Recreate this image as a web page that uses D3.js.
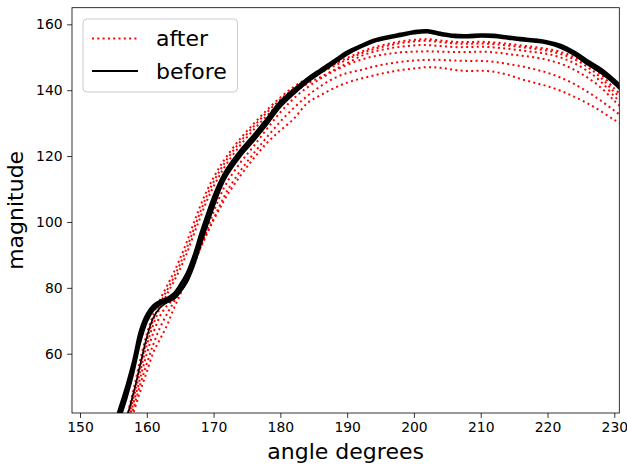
<!DOCTYPE html>
<html>
<head>
<meta charset="utf-8">
<script src="https://cdn.jsdelivr.net/npm/d3@7"></script>
<style>
  body { margin: 0; background: #fff; }
  svg { display: block; font-family: "DejaVu Sans", sans-serif; }
</style>
</head>
<body>
<div id="chart"></div>
<script>
var w = 627, h = 465;

// angle grid shared by every series
var angles = [155,156,157,158,159,160,161,162,163,164,165,166,167,168,169,170,171,172,
  174,176,178,180,182,184,186,188,190,192,194,196,198,200,202,204,206,208,210,212,214,
  216,218,220,222,224,226,228,230,231.5];

// "before" curves (black)
var before1 = [36,42,48.5,56,65.5,71,74,75.5,76.2,77.3,79.8,83,88,94.5,100.5,106.2,111.3,115.2,
  120.8,125.5,130.5,135.8,139.6,143,145.8,148.5,151.3,153.3,155,156,156.8,157.6,157.9,157.1,156.5,156.4,156.6,156.5,156.0,
  155.5,155.1,154.5,153.3,151.2,148.4,145.9,142.6,139.6];
var before2 = [37.5,44,50.5,58,67,72,74.7,76,76.8,78.2,81,84.5,89.7,96.2,102.2,107.8,112.5,116.2,
  121.7,126.4,131.4,136.6,140.2,143.5,146.3,149,151.7,153.6,155.3,156.3,157.1,157.9,158.2,157.4,156.8,156.7,156.9,156.8,156.3,
  155.8,155.4,154.8,153.7,151.7,149,146.5,143.2,140.3];
var before3 = [34,40.5,47,54.5,63.5,69.8,73.3,75,75.7,76.6,78.8,81.8,86.6,92.9,98.9,104.7,110.1,114.2,
  120,124.7,129.7,135,138.9,142.4,145.3,148.1,150.9,153,154.7,155.7,156.5,157.3,157.6,156.8,156.2,156.1,156.3,156.2,155.7,
  155.2,154.8,154.2,152.9,150.8,147.9,145.3,142,139];
var before4 = [28,33,40.5,48,56.5,65,71,74,75.5,76.8,79,82.2,87,93.5,99.5,105.3,110.5,114.5,
  120.2,125,130,135.2,139.1,142.6,145.4,148.1,151,153,154.8,155.8,156.6,157.4,157.7,156.9,156.3,156.2,156.4,156.3,155.8,
  155.3,154.9,154.3,153.1,150.9,148.1,145.5,142.2,139.1];

// "after" curves (red dotted)
var after1 = [30,35,41,49,58,66,72,76.5,80.5,84.5,89,94,99.5,104.8,109.5,113.5,117,120,
  125.3,129.8,134,137.8,141,143.6,145.8,147.8,149.8,151.6,153,154,154.8,155.3,155.5,155.1,154.7,154.6,154.7,154.5,154.1,
  153.6,153.1,152.5,151.6,150.1,147.8,144.8,140.5,137.8];
var after2 = [29,34,40,47.5,56,64,70.5,75.3,79.2,83,87.3,92.2,97.6,103,108,112.2,115.8,119,
  124.4,129,133.3,137.2,140.4,143,145.2,147.3,149.3,151.1,152.5,153.5,154.3,154.8,155,154.6,154.2,154.1,154.2,154,153.6,
  153.1,152.6,152,151,149.4,147,143.8,139.5,137];
var after3 = [28,33,39,46.5,54.5,62.5,69,74,78,81.7,85.8,90.5,96,101.3,106.5,110.8,114.5,117.8,
  123.3,128,132.3,136.2,139.3,141.9,144,146.1,148.2,150.3,151.7,152.6,153.2,153.6,153.7,153.4,153.1,153.1,153.2,153,152.6,
  152.1,151.6,151,149.9,148.2,145.8,142.6,138.2,135.5];
var after4 = [27,32,38,45,52.5,60,66.5,71.5,74.5,76.5,78.8,82,86.5,92,97.5,103,108,112,
  118,123,128.3,133.3,137.5,140.8,143.5,145.8,147.7,149.2,150.3,151,151.5,151.7,151.8,151.7,151.6,151.6,151.7,151.5,151,
  150.5,150,149.2,148,146.2,143.8,140.8,136.8,134];
var after5 = [26,31,37,43.5,50.5,57,63,68,72,75.5,79,83,87.5,92,96.5,101,105.3,109.3,
  115.5,120.8,125.8,130.5,134.6,138.2,141.2,143.6,145.2,146.1,147.2,148,148.6,149,149.2,149.2,149,148.9,148.9,148.6,148,
  147.3,146.4,145.3,143.8,141.9,139.5,136.8,133.8,131.5];
var after6 = [24,29,35,42,48.5,54.5,60.5,64.5,68.5,73.5,78,83,87.5,92,96.5,100.6,104.4,108,
  114,119.3,124,127.8,131.3,136,138.5,140.6,142.3,143.5,144.5,145.4,146.1,146.6,147,146.8,146.2,145.8,145.9,145.6,144.7,
  143.4,142.3,141.2,139.8,138,136,133.6,131,129.3];

var beforeSeries = [before1, before2, before3, before4];
var afterSeries = [after1, after2, after3, after4, after5, after6];

var xTicks = [150,160,170,180,190,200,210,220,230];
var yTicks = [60,80,100,120,140,160];
var legendLabels = ["after", "before"];

var axL = 72, axR = 619.3, axT = 7.7, axB = 413;

var x = d3.scaleLinear().domain([148.8, 230.75]).range([axL, axR]);
var y = d3.scaleLinear().domain([42, 165.05]).range([axB, axT]);

var svg = d3.select("#chart").append("svg").attr("width", w).attr("height", h);

svg.append("defs").append("clipPath").attr("id", "clip")
  .append("rect").attr("x", axL).attr("y", axT).attr("width", axR - axL).attr("height", axB - axT);

var line = d3.line()
  .x(function (d, i) { return x(angles[i]); })
  .y(function (d) { return y(d); })
  .curve(d3.curveCatmullRom.alpha(0.5));

var plot = svg.append("g").attr("clip-path", "url(#clip)");

plot.selectAll(".after").data(afterSeries).enter().append("path")
  .attr("class", "after")
  .attr("d", line)
  .style("fill", "none").style("stroke", "red")
  .style("stroke-width", 2).style("stroke-dasharray", "2,3.3");

plot.selectAll(".before").data(beforeSeries).enter().append("path")
  .attr("class", "before")
  .attr("d", line)
  .style("fill", "none").style("stroke", "black")
  .style("stroke-width", function (d, i) { return i === 3 ? 1.6 : 2.6; });

// axes
var xAxis = svg.append("g").attr("transform", "translate(0," + axB + ")")
  .call(d3.axisBottom(x).tickValues(xTicks).tickSize(4.9).tickPadding(4.5).tickSizeOuter(0));
var yAxis = svg.append("g").attr("transform", "translate(" + axL + ",0)")
  .call(d3.axisLeft(y).tickValues(yTicks).tickSize(4.9).tickPadding(4.5).tickSizeOuter(0));

[xAxis, yAxis].forEach(function (a) {
  a.select(".domain").remove();
  a.selectAll("text").style("font-size", "13.9px").style("font-family", "DejaVu Sans").style("fill", "#000");
  a.selectAll("line").style("stroke", "#000").style("stroke-width", 0.8);
});

svg.append("rect").attr("x", axL).attr("y", axT).attr("width", axR - axL).attr("height", axB - axT)
  .style("fill", "none").style("stroke", "#000").style("stroke-width", 0.8);

svg.append("text").attr("x", (axL + axR) / 2).attr("y", 459)
  .attr("text-anchor", "middle").style("font-size", "22px").text("angle degrees");

svg.append("text").attr("transform", "translate(23," + (axT + axB) / 2 + ") rotate(-90)")
  .attr("text-anchor", "middle").style("font-size", "22px").text("magnitude");

// legend
var lg = svg.append("g");
lg.append("rect").attr("x", 83).attr("y", 19).attr("width", 154.5).attr("height", 73)
  .attr("rx", 4).attr("ry", 4)
  .style("fill", "#fff").style("fill-opacity", 0.8).style("stroke", "#ccc").style("stroke-width", 1);

var items = lg.selectAll(".item").data(legendLabels).enter().append("g")
  .attr("class", "item")
  .attr("transform", function (d, i) { return "translate(0," + (38.5 + i * 32.5) + ")"; });

items.append("line").attr("x1", 92).attr("x2", 138).attr("y1", 0).attr("y2", 0)
  .style("stroke", function (d, i) { return i === 0 ? "red" : "black"; })
  .style("stroke-width", 2)
  .style("stroke-dasharray", function (d, i) { return i === 0 ? "2,3.3" : null; });

items.append("text").attr("x", 156).attr("y", 0).attr("dy", "0.35em")
  .style("font-size", "22px").text(function (d) { return d; });
</script>
</body>
</html>
